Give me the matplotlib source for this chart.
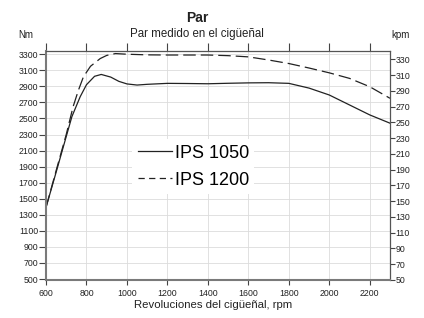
import matplotlib.pyplot as plt
from matplotlib.lines import Line2D

# IPS 1050 torque curve (rpm, Nm)
rpm_1050 = [600, 650, 700, 728, 769, 800, 840, 873, 920, 960, 1000, 1050, 1100,
            1200, 1300, 1400, 1500, 1600, 1700, 1800, 1900, 2000, 2100, 2200, 2300]
nm_1050 = [1392, 1830, 2275, 2523, 2771, 2920, 3025, 3048, 3015, 2962, 2930, 2916,
           2925, 2937, 2935, 2932, 2938, 2943, 2945, 2937, 2878, 2792, 2668, 2544, 2441]

# IPS 1200 torque curve (rpm, Nm)
rpm_1200 = [600, 650, 700, 734, 760, 785, 820, 868, 900, 943, 1000, 1100, 1200,
            1400, 1500, 1600, 1700, 1800, 1900, 2000, 2100, 2200, 2300]
nm_1200 = [1392, 1850, 2300, 2647, 2850, 3019, 3150, 3246, 3285, 3308, 3300, 3292,
           3290, 3290, 3282, 3267, 3228, 3184, 3128, 3068, 2999, 2895, 2751]

x_ticks = list(range(600, 2201, 200))
nm_ticks = list(range(500, 3301, 200))
kpm_ticks = list(range(50, 331, 20))
NM_PER_KPM = 9.80665

TXT = ["Liberation Sans", "DejaVu Sans"]
NARROW = ["Liberation Sans Narrow", "Liberation Sans", "DejaVu Sans"]
INK = "#222222"
SPINE = "#7a7a7a"
TICK = "#444444"

fig = plt.figure(figsize=(4.24, 3.18), dpi=100)
ax = fig.add_axes([46 / 424, 1 - 280 / 318, 344 / 424, 229 / 318])

ax.plot(rpm_1050, nm_1050, color=INK, lw=0.9)
ax.plot(rpm_1200, nm_1200, color=INK, lw=0.9, dashes=(10, 4))

ax.set_xlim(600, 2300)
ax.set_ylim(488, 3340)
ax.set_xticks(x_ticks)
ax.set_yticks(nm_ticks)
ax.grid(True, color="#dcdcdc", lw=0.6)
ax.set_axisbelow(True)

for lab in ax.get_xticklabels() + ax.get_yticklabels():
    lab.set_family(NARROW)
    lab.set_fontsize(6.3)
ax.tick_params(axis="x", direction="out", length=3.5, width=0.8,
               color=TICK, pad=3, labelcolor=INK)
ax.tick_params(axis="y", direction="out", length=5, width=0.8,
               color=TICK, pad=0.5, labelcolor=INK)

for side in ("left", "bottom"):
    ax.spines[side].set_color(SPINE)
    ax.spines[side].set_linewidth(1.5)
for side in ("top", "right"):
    ax.spines[side].set_color("#555555")
    ax.spines[side].set_linewidth(0.9)

# top ticks without labels
top = ax.secondary_xaxis("top")
top.set_xticks(x_ticks)
top.tick_params(direction="out", length=6, width=0.8, color=TICK,
                labeltop=False)
top.spines["top"].set_visible(False)

# secondary axis in kpm
ax2 = ax.secondary_yaxis("right", functions=(lambda v: v / NM_PER_KPM,
                                               lambda v: v * NM_PER_KPM))
ax2.set_yticks(kpm_ticks)
ax2.tick_params(direction="out", length=3.5, width=0.8, color=TICK,
                pad=0.5, labelcolor=INK)
ax2.spines["right"].set_visible(False)
for lab in ax2.get_yticklabels():
    lab.set_family(NARROW)
    lab.set_fontsize(6.3)

handles = [Line2D([], [], color=INK, lw=0.9),
           Line2D([], [], color=INK, lw=0.9, dashes=(5, 3.5))]
leg = ax.legend(handles, ["IPS 1050", "IPS 1200"], loc="center",
                bbox_to_anchor=(0.428, 0.495), prop={"family": TXT, "size": 13},
                handlelength=1.9, handletextpad=0.15, labelspacing=0.55,
                frameon=True, framealpha=1, facecolor="white", edgecolor="none",
                borderpad=0.3)

fig.text(197 / 424, 1 - 22 / 318, "Par", ha="center", va="baseline",
         family=TXT, fontsize=10, fontweight="bold", color=INK)
fig.text(197 / 424, 1 - 37 / 318, "Par medido en el cigüeñal", ha="center",
         va="baseline", family=TXT, fontsize=8.3, color=INK)
fig.text(18 / 424, 1 - 38 / 318, "Nm", ha="left", va="baseline",
         family=TXT, fontsize=7, color=INK)
fig.text(391 / 424, 1 - 38 / 318, "kpm", ha="left", va="baseline",
         family=TXT, fontsize=7, color=INK)
fig.text(213 / 424, 1 - 308 / 318, "Revoluciones del cigüeñal, rpm", ha="center",
         va="baseline", family=TXT, fontsize=8.2, color=INK)

fig.savefig("out.png", dpi=100)
